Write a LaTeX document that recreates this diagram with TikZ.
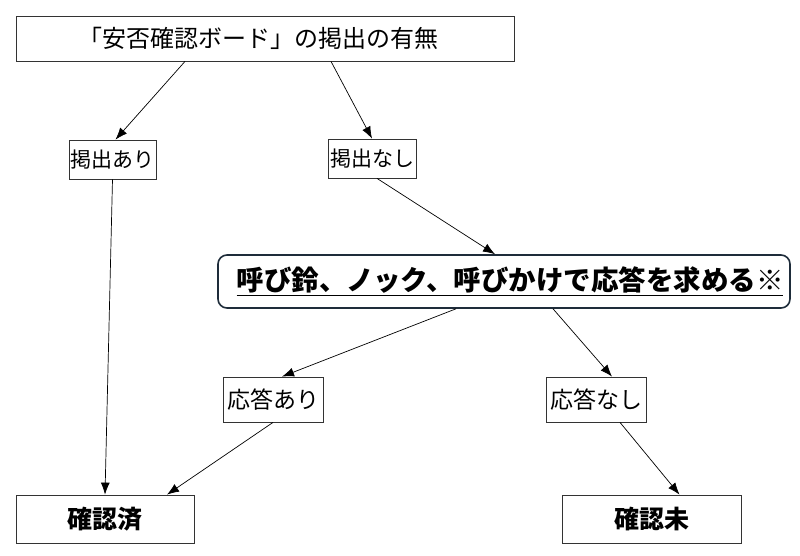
\documentclass[tikz,border=0pt]{standalone}
\usepackage{fontspec}
\setmainfont{Noto Sans CJK JP}
\usetikzlibrary{arrows.meta}
\definecolor{askline}{RGB}{30,44,58}
\tikzstyle{box}=[rectangle,draw=black!80,line width=.8pt,inner sep=0pt]
\tikzstyle{askbox}=[rectangle,rounded corners=9pt,draw=askline,
                    line width=1.6pt,inner sep=0pt]
\tikzstyle{arrow}=[->,black,line width=.7pt]
\newcommand{\fs}[1]{\fontsize{#1}{#1}\selectfont}

\begin{document}
\begin{tikzpicture}[x=1pt,y=-1pt,>={Latex[length=12pt,width=9pt]}]
	\useasboundingbox (0,0) rectangle (800,555);
	\node[box,minimum width=498pt,minimum height=45pt,font=\fs{24}] (umu) at (265,38.5) {「安否確認ボード」の掲出の有無\hspace*{14pt}};
	\node[box,minimum width=87pt,minimum height=39pt,font=\fs{21}] (ari) at (112.5,159.5) {掲出あり};
	\node[box,minimum width=88pt,minimum height=39pt,font=\fs{21}] (nashi) at (372,158.5) {掲出なし};
	\node[askbox,minimum width=572pt,minimum height=53pt,font=\fs{27.5}\bfseries] (ask) at (504,281.5) {\hspace*{12pt}\underline{呼び鈴、ノック、呼びかけで応答を求める※}};
	\node[box,minimum width=100pt,minimum height=45pt,font=\fs{23}] (oari) at (273,399.5) {応答あり};
	\node[box,minimum width=100pt,minimum height=45pt,font=\fs{23}] (onashi) at (596,399.5) {応答なし};
	\node[box,minimum width=178pt,minimum height=48pt,font=\fs{25}\bfseries] (done) at (105,519) {確認済};
	\node[box,minimum width=179pt,minimum height=48pt,font=\fs{25}\bfseries] (undone) at (651.5,519) {確認未};

	\draw[arrow] ([xshift=-80pt]umu.south) -- ([xshift=3pt]ari.north);
	\draw[arrow] ([xshift=66pt]umu.south) -- (nashi.north);
	\draw[arrow] ([xshift=5pt]nashi.south) -- ([xshift=-9pt]ask.north);
	\draw[arrow] ([xshift=-48pt]ask.south) -- ([xshift=9pt]oari.north);
	\draw[arrow] ([xshift=49pt]ask.south) -- ([xshift=16pt]onashi.north);
	\draw[arrow] (ari.south) -- (done.north);
	\draw[arrow] (oari.south) -- ([xshift=62pt]done.north);
	\draw[arrow] ([xshift=24pt]onashi.south) -- ([xshift=28pt]undone.north);
\end{tikzpicture}
\end{document}
